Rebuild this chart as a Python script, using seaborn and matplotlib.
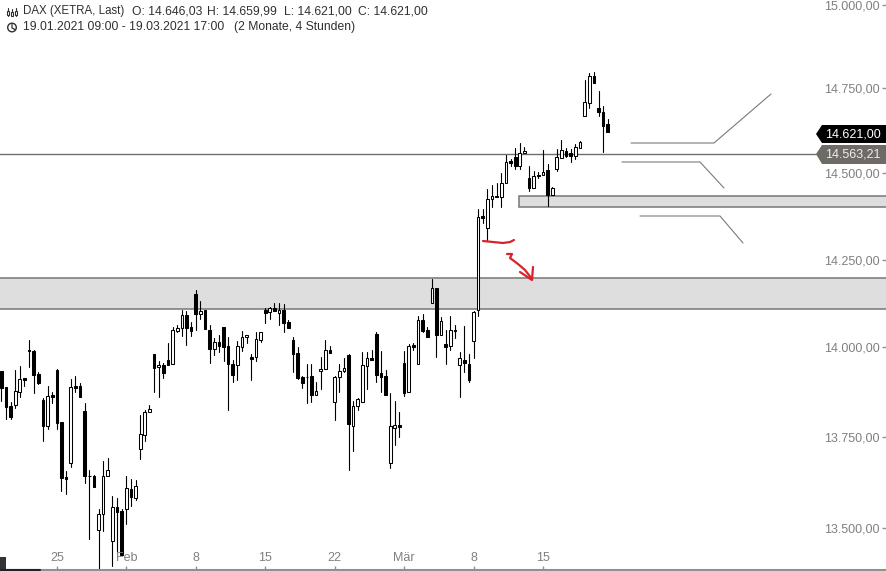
import numpy as np
import pandas as pd
import seaborn as sns
import matplotlib.pyplot as plt
from matplotlib.patches import Polygon, Rectangle, Circle
from matplotlib.ticker import NullLocator
from matplotlib.transforms import Affine2D

opens = [13933, 13888, 13836, 13840, 13876, 13914, 13992, 13991, 13926, 13854, 13779, 13867,
         13937, 13791, 13640, 13679, 13892, 13892, 13822, 13642, 13642, 13494, 13537, 13641,
         13466, 13557, 13547, 13553, 13607, 13583, 13716, 13756, 13818, 13982, 13944, 13950,
         13964, 13953, 14047, 14054, 14092, 14059, 14152, 14095, 14105, 14050, 13996, 14015,
         14058, 14004, 13954, 13951, 14002, 14029, 13973, 13973, 14022, 14105, 14100, 14111,
         14099, 14106, 14072, 14021, 13985, 13916, 13918, 13921, 13868, 13934, 13939, 13994,
         13848, 13916, 13933, 13978, 13781, 13835, 13847, 13948, 13969, 14038, 13929, 13921,
         13677, 13776, 13782, 13955, 13876, 14006, 13953, 14077, 14049, 14125, 14168, 14036,
         14009, 14003, 14050, 13951, 13966, 13954, 14017, 14105, 14376, 14340, 14425, 14434,
         14432, 14473, 14536, 14548, 14520, 14558, 14486, 14456, 14496, 14496, 14510, 14438,
         14513, 14544, 14566, 14559, 14551, 14575, 14667, 14708, 14787, 14692, 14681, 14646]
highs = [13935, 13890, 13846, 13937, 13947, 13914, 14022, 13993, 13931, 13857, 13892, 13876,
         13940, 13791, 13656, 13911, 13920, 13900, 13843, 13659, 13645, 13551, 13684, 13692,
         13587, 13583, 13551, 13642, 13634, 13630, 13811, 13825, 13839, 13982, 13961, 13956,
         14012, 14057, 14064, 14106, 14102, 14073, 14164, 14131, 14106, 14064, 14026, 14035,
         14058, 14030, 13964, 14018, 14047, 14035, 13983, 14043, 14045, 14113, 14114, 14126,
         14126, 14123, 14078, 14030, 14002, 13921, 13954, 13953, 13904, 13972, 14021, 14004,
         13921, 13953, 13969, 13983, 13849, 13858, 13986, 13986, 13993, 14043, 13991, 13936,
         13872, 13849, 13820, 13990, 14009, 14014, 14088, 14094, 14058, 14195, 14168, 14086,
         14050, 14089, 14064, 13986, 14061, 13981, 14102, 14396, 14396, 14454, 14466, 14471,
         14500, 14554, 14542, 14573, 14588, 14576, 14522, 14507, 14503, 14568, 14527, 14461,
         14571, 14598, 14573, 14570, 14586, 14596, 14776, 14795, 14798, 14743, 14699, 14660]
lows = [13850, 13799, 13801, 13830, 13862, 13893, 13944, 13873, 13898, 13740, 13773, 13845,
        13773, 13600, 13594, 13666, 13876, 13861, 13622, 13469, 13613, 13388, 13491, 13641,
        13398, 13432, 13426, 13512, 13560, 13577, 13688, 13740, 13818, 13876, 13862, 13913,
        13952, 13953, 14045, 14032, 14008, 14032, 14050, 14080, 14052, 13956, 13978, 13986,
        13961, 13825, 13904, 13910, 13990, 14014, 13910, 13962, 14015, 14069, 14081, 14102,
        14064, 14045, 14055, 13930, 13911, 13887, 13844, 13847, 13868, 13883, 13939, 13984,
        13797, 13876, 13930, 13658, 13710, 13824, 13847, 13884, 13966, 13902, 13876, 13868,
        13665, 13729, 13750, 13865, 13874, 13993, 13953, 14044, 14029, 14125, 13973, 14035,
        13953, 13993, 14027, 13860, 13930, 13904, 13970, 14088, 14355, 14304, 14403, 14432,
        14403, 14473, 14522, 14512, 14514, 14558, 14447, 14456, 14485, 14496, 14405, 14438,
        14508, 14544, 14549, 14534, 14542, 14575, 14667, 14692, 14767, 14667, 14561, 14621]
closes = [13887, 13834, 13804, 13878, 13912, 13910, 13989, 13924, 13899, 13779, 13863, 13861,
          13790, 13638, 13635, 13888, 13886, 13861, 13641, 13641, 13613, 13538, 13642, 13658,
          13557, 13545, 13426, 13609, 13586, 13614, 13757, 13818, 13828, 13941, 13951, 13927,
          13952, 14049, 14054, 14092, 14056, 14048, 14096, 14103, 14052, 13995, 14015, 14005,
          14002, 13954, 13924, 14004, 14029, 14034, 13968, 14023, 14043, 14099, 14111, 14102,
          14106, 14068, 14056, 13981, 13915, 13899, 13916, 13868, 13878, 13940, 13994, 13984,
          13918, 13935, 13943, 13785, 13835, 13856, 13950, 13969, 13966, 13924, 13918, 13868,
          13779, 13784, 13777, 13873, 14004, 14002, 14077, 14047, 14030, 14168, 14036, 14074,
          14002, 14049, 14047, 13969, 13956, 13910, 14100, 14372, 14371, 14425, 14434, 14432,
          14471, 14533, 14531, 14520, 14558, 14564, 14456, 14492, 14491, 14505, 14438, 14457,
          14547, 14568, 14551, 14551, 14576, 14592, 14709, 14787, 14767, 14679, 14639, 14621]

price_ticks = [13500, 13750, 14000, 14250, 14500, 14750, 15000]
price_labels = ["13.500,00", "13.750,00", "14.000,00", "14.250,00", "14.500,00", "14.750,00", "15.000,00"]
date_ticks = [12, 27, 42, 57, 72, 87, 102, 117]
date_labels = ["25", "Feb", "8", "15", "22", "Mär", "8", "15"]

zone_wide = (14108, 14197)
zone_narrow = (14402, 14434)
last_line = 14557

sns.set_theme(style="white")
plt.rcParams["font.family"] = ["Liberation Sans", "DejaVu Sans"]

fig = plt.figure(figsize=(8.86, 5.71), dpi=100, facecolor="white")
ax = fig.add_axes([0, 1.5 / 571, 1, 569.5 / 571])
ax.set_yscale("log")
ax.set_axisbelow(False)

# image pixels, y going down, for the hand drawn stuff and the header
px = Affine2D().scale(1, -1).translate(0, 571)

n = len(opens)
idx = np.arange(n)
wicks = pd.DataFrame({
    "candle": np.r_[idx, idx],
    "price": np.r_[lows, highs],
})
wicks = wicks.sort_values("candle")
sns.lineplot(data=wicks, x="candle", y="price", units="candle", estimator=None,
             color="black", linewidth=0.8, legend=False, ax=ax, zorder=2)

o = np.array(opens)
c = np.array(closes)
up = c > o
bar_cols = ["white" if u else "black" for u in up]
ax.bar(idx, np.abs(c - o), bottom=np.minimum(o, c), width=0.58, color=bar_cols,
       edgecolor="black", linewidth=0.75, zorder=2.2)

# zones
ax.axhspan(zone_wide[0], zone_wide[1], facecolor="#dedede", edgecolor="none", zorder=1)
ax.axhline(zone_wide[0], color="#808080", lw=1.2, zorder=1.5)
ax.axhline(zone_wide[1], color="#808080", lw=1.2, zorder=1.5)
ax.add_patch(Rectangle((111.8, zone_narrow[0]), 90, zone_narrow[1] - zone_narrow[0],
                       facecolor="#dedede", edgecolor="#808080", lw=1.2, zorder=1))
ax.plot([-1, 176], [last_line, last_line], color="#6e6e6e", lw=1, zorder=1.5)

ax.set_xlim(-0.28, 191.1)
ax.set_ylim(13387.7, 15015.1)
ax.set_xlabel("")
ax.set_ylabel("")

ax.yaxis.tick_right()
ax.yaxis.set_minor_locator(NullLocator())
ax.yaxis.set_major_locator(plt.FixedLocator(price_ticks))
ax.set_yticklabels(price_labels, ha="right", color="#808080", fontsize=9)
ax.tick_params(axis="y", which="both", direction="in", length=3, width=1, color="#909090",
               pad=-4.5, right=True, left=False)
ax.set_xticks(date_ticks)
ax.set_xticklabels(date_labels, color="#808080", fontsize=9)
ax.tick_params(axis="x", direction="in", length=3, width=1, color="#909090", pad=-12.5, bottom=True)
sns.despine(ax=ax, left=True, top=True, right=True)
ax.spines["bottom"].set_color("#909090")
ax.spines["bottom"].set_linewidth(1.5)

# hand drawn grey lines
for xs, ys in [([631, 714, 771], [143, 143, 94]),
               ([622, 700, 724], [162, 162, 188]),
               ([640, 720, 743], [216, 216, 243])]:
    ax.plot(xs, ys, color="#7a7a7a", lw=0.8, transform=px, clip_on=False, zorder=4)

# red scribbles
for xs, ys in [([483, 493, 503, 510, 514], [241, 242, 243, 242, 240]),
               ([507, 512, 510, 518, 525, 532], [254, 254, 258, 264, 270, 279]),
               ([533, 532, 520], [267, 280, 272])]:
    ax.plot(xs, ys, color="#d8232a", lw=1.6, transform=px, clip_on=False, zorder=5)

# price tags
ax.add_patch(Polygon([(886, 125), (822, 125), (816, 134), (822, 143), (886, 143)], closed=True,
                     facecolor="black", edgecolor="none", transform=px, clip_on=False, zorder=6))
ax.add_patch(Polygon([(886, 145), (822, 145), (816, 154), (822, 164), (886, 164)], closed=True,
                     facecolor="#6e6a66", edgecolor="none", transform=px, clip_on=False, zorder=6))
ax.text(881, 134.5, "14.621,00", color="white", fontsize=9, ha="right", va="center",
        transform=px, zorder=7)
ax.text(881, 154.5, "14.563,21", color="#eeeeee", fontsize=9, ha="right", va="center",
        transform=px, zorder=7)

# header
for hx, hy, txt, fs in [(23, 11, "DAX (XETRA, Last)", 8.3), (132, 11, "O: 14.646,03", 8.75),
                        (207, 11, "H: 14.659,99", 8.75), (284, 11, "L: 14.621,00", 8.75),
                        (358, 11, "C: 14.621,00", 8.75),
                        (23, 27, "19.01.2021 09:00 - 19.03.2021 17:00", 8.75),
                        (234, 27, "(2 Monate, 4 Stunden)", 8.75)]:
    ax.text(hx, hy, txt, color="#303030", fontsize=fs, ha="left", va="center", transform=px, zorder=7)
ax.add_patch(Circle((12, 27.5), 4.3, facecolor="none", edgecolor="#303030", lw=1, transform=px, clip_on=False))
ax.plot([12, 12, 15], [24.5, 28, 29.5], color="#303030", lw=0.9, transform=px, clip_on=False)
for xi, yt, yb in [(8, 8, 16), (12, 9, 16), (16, 8, 16)]:
    ax.plot([xi, xi], [yt, yb], color="#303030", lw=0.8, transform=px, clip_on=False)
    ax.add_patch(Rectangle((xi - 1.2, yt + 3), 2.4, 3.5, facecolor="white", edgecolor="#303030", lw=0.8,
                           transform=px, clip_on=False, zorder=4))

# scrollbar bits at the bottom left
ax.add_patch(Rectangle((0, 557), 6, 12, facecolor="#333333", edgecolor="none", transform=px, clip_on=False, zorder=6))
ax.plot([0, 40], [569.7, 569.7], color="#222222", lw=1.5, transform=px, clip_on=False, zorder=6)

fig.savefig("out.png", dpi=100)
